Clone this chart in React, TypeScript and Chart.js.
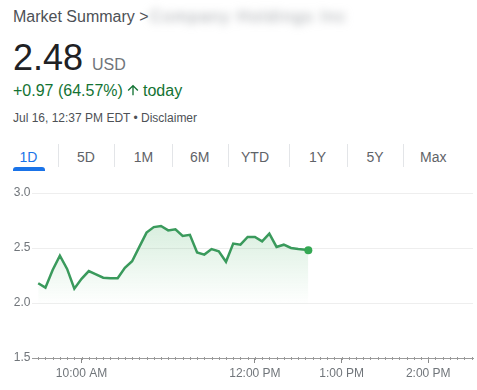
import React, { useEffect, useRef } from "react";
import { Chart, registerables } from "chart.js";

Chart.register(...registerables);

// ---- data ----
const times: string[] = [
  "9:30", "9:35", "9:40", "9:45", "9:50", "9:55", "10:00", "10:05", "10:10", "10:15",
  "10:20", "10:25", "10:30", "10:35", "10:40", "10:45", "10:50", "10:55", "11:00", "11:05",
  "11:10", "11:15", "11:20", "11:25", "11:30", "11:35", "11:40", "11:45", "11:50", "11:55",
  "12:00", "12:05", "12:10", "12:15", "12:20", "12:25", "12:30", "12:35", "12:37",
];
const prices: number[] = [
  2.18, 2.14, 2.30, 2.43, 2.31, 2.13, 2.22, 2.29, 2.26, 2.23,
  2.225, 2.225, 2.32, 2.38, 2.51, 2.64, 2.69, 2.70, 2.66, 2.67,
  2.61, 2.62, 2.46, 2.44, 2.49, 2.47, 2.375, 2.54, 2.53, 2.60,
  2.60, 2.56, 2.63, 2.51, 2.53, 2.50, 2.49, 2.485, 2.48,
];
const yTicks: number[] = [1.5, 2.0, 2.5, 3.0];
const xTickTimes: string[] = ["10:00", "12:00", "13:00", "14:00"];
const xMinTime = "9:25.7";
const xMaxTime = "14:31";
const tabs: string[] = ["1D", "5D", "1M", "6M", "YTD", "1Y", "5Y", "Max"];

const toMin = (t: string) => {
  const [h, m] = t.split(":");
  return parseInt(h, 10) * 60 + parseFloat(m);
};
const fmtTime = (v: number) => {
  const h = Math.floor(v / 60);
  const m = Math.round(v - h * 60);
  const ap = h >= 12 ? "PM" : "AM";
  const hh = h > 12 ? h - 12 : h;
  return `${hh}:${m.toString().padStart(2, "0")} ${ap}`;
};

const FONT = "Arial, 'Liberation Sans', sans-serif";

const minorTicks = {
  id: "minorTicks",
  afterDraw(chart: any) {
    const xs = chart.scales.x;
    const c = chart.ctx;
    const y = xs.top;
    const start = Math.ceil(xs.min / 5) * 5;
    c.save();
    c.strokeStyle = "#9a9a9a";
    c.lineWidth = 1;
    for (let v = start; v <= xs.max; v += 5) {
      const px = Math.round(xs.getPixelForValue(v)) + 0.5;
      c.beginPath();
      c.moveTo(px, y - 1);
      c.lineTo(px, y + 2);
      c.stroke();
    }
    c.restore();
  },
};

function PriceChart() {
  const ref = useRef<HTMLCanvasElement>(null);
  useEffect(() => {
    if (!ref.current) return;
    const data = times.map((t, i) => ({ x: toMin(t), y: prices[i] }));
    const last = data.length - 1;
    const chart = new Chart(ref.current, {
      type: "line",
      data: {
        datasets: [
          {
            data,
            borderColor: "#3a9a5c",
            borderWidth: 2.5,
            tension: 0,
            fill: "start",
            backgroundColor: (ctx: any) => {
              const ch = ctx.chart;
              if (!ch.chartArea) return "transparent";
              const ys = ch.scales.y;
              const g = ch.ctx.createLinearGradient(0, ys.getPixelForValue(2.75), 0, ys.getPixelForValue(1.98));
              g.addColorStop(0, "rgba(52,168,83,0.2)");
              g.addColorStop(1, "rgba(52,168,83,0)");
              return g;
            },
            pointRadius: (ctx: any) => (ctx.dataIndex === last ? 4 : 0),
            pointBackgroundColor: "#34a853",
            pointBorderColor: "#34a853",
            pointBorderWidth: 0,
          },
        ],
      },
      options: {
        animation: false,
        responsive: false,
        maintainAspectRatio: false,
        layout: { padding: { top: 13, left: 0, right: 0, bottom: 0 } },
        plugins: { legend: { display: false }, tooltip: { enabled: false } },
        scales: {
          x: {
            type: "linear",
            min: toMin(xMinTime),
            max: toMin(xMaxTime),
            afterBuildTicks: (s: any) => {
              s.ticks = xTickTimes.map((t) => ({ value: toMin(t) }));
            },
            afterFit: (s: any) => {
              s.height = 32;
            },
            ticks: {
              callback: (v: any) => fmtTime(Number(v)),
              color: "#70757a",
              font: { family: FONT, size: 12 },
              padding: 3,
              maxRotation: 0,
              autoSkip: false,
            },
            grid: {
              drawOnChartArea: false,
              drawTicks: true,
              tickLength: 5,
              tickColor: "#8a8a8a",
            },
            border: { display: true, color: "#9a9a9a", width: 1 },
          },
          y: {
            min: 1.5,
            max: 3.0,
            afterBuildTicks: (s: any) => {
              s.ticks = yTicks.map((v) => ({ value: v }));
            },
            afterFit: (s: any) => {
              s.width = 32;
            },
            ticks: {
              callback: (v: any) => Number(v).toFixed(1),
              color: "#70757a",
              font: { family: FONT, size: 12 },
              padding: 1.5,
            },
            grid: { color: "#eeeeee", drawTicks: false },
            border: { display: false },
          },
        },
      },
      plugins: [minorTicks],
    } as any);
    return () => chart.destroy();
  }, []);
  return <canvas ref={ref} width={477} height={210} style={{ position: "absolute", left: 0, top: 180, width: 477, height: 210 }} />;
}

const tabCenters = [28.5, 86, 143.5, 199.7, 255, 317.5, 375, 433.3];
const sepX = [57.7, 114.3, 171.7, 228.3, 289.3, 346.7, 403.3];

export default function App() {
  const abs = (o: React.CSSProperties): React.CSSProperties => ({ position: "absolute", whiteSpace: "nowrap", ...o });
  return (
    <div style={{ position: "absolute", left: 0, top: 0, width: 477, height: 390, background: "#fff", overflow: "hidden", fontFamily: FONT }}>
      <div style={abs({ left: 13, top: 9.2, fontSize: 16, lineHeight: "16px", color: "#4d5156" })}>Market Summary &gt;</div>
      <div style={abs({ left: 150, top: 9.2, fontSize: 16, lineHeight: "16px", color: "#9a9ea3", filter: "blur(4.5px)", letterSpacing: "1.8px" })}>
        Company Holdings Inc
      </div>
      <div style={abs({ left: 13, top: 39.5, fontSize: 36, lineHeight: "36px", color: "#202124" })}>2.48</div>
      <div style={abs({ left: 92, top: 56.5, fontSize: 16, lineHeight: "16px", color: "#70757a" })}>USD</div>
      <div style={abs({ left: 13, top: 82.5, fontSize: 16, lineHeight: "16px", color: "#137333" })}>+0.97 (64.57%)</div>
      <svg style={{ position: "absolute", left: 125, top: 82.3 }} width={16} height={16} viewBox="0 0 24 24">
        <path fill="#137333" d="M4 12l1.41 1.41L11 7.83V20h2V7.83l5.58 5.59L20 12l-8-8-8 8z" />
      </svg>
      <div style={abs({ left: 143, top: 82.5, fontSize: 16, lineHeight: "16px", color: "#137333" })}>today</div>
      <div style={abs({ left: 13, top: 111.5, fontSize: 12, lineHeight: "12px", color: "#4d5156" })}>Jul 16, 12:37 PM EDT • Disclaimer</div>

      {tabs.map((t, i) => (
        <div
          key={t}
          style={abs({
            left: tabCenters[i] - 30,
            width: 60,
            textAlign: "center",
            top: 150,
            fontSize: 14,
            lineHeight: "14px",
            color: i === 0 ? "#1a73e8" : "#5f6368",
          })}
        >
          {t}
        </div>
      ))}
      {sepX.map((x, i) => (
        <div key={i} style={abs({ left: x, top: 144, width: 1, height: 23, background: "#e3e5e8" })} />
      ))}
      <div style={abs({ left: 13, top: 167, width: 32, height: 3.5, background: "#1a73e8", borderRadius: "3px 3px 0 0" })} />

      <PriceChart />
    </div>
  );
}
